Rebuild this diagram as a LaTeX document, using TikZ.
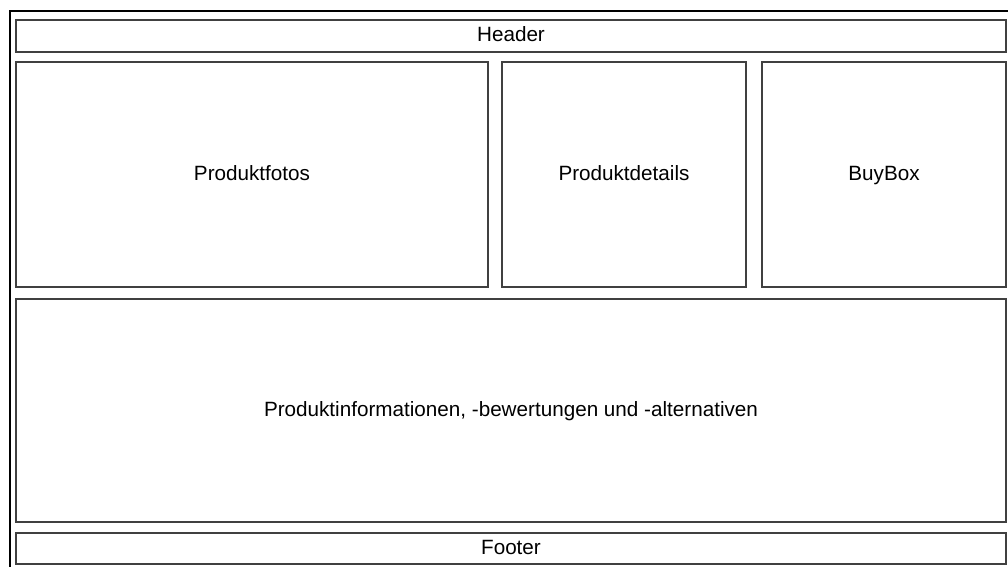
\documentclass[tikz,border=0pt]{standalone}
\usepackage{fontspec}
\setmainfont{Liberation Sans}
\usepackage{tikz}
\usetikzlibrary{positioning}
\tikzstyle{panel} = [rectangle, text centered, text height=0.9em, text depth=0pt, draw=black!75, line width=0.9pt, outer sep=0pt, font=\fontsize{15.5}{18}\selectfont]
\tikzstyle{bar} = [panel, minimum width=742.5pt, minimum height=24pt]
\tikzstyle{frame} = [draw=black, line width=2.2pt]

\begin{document}
\begin{tikzpicture}[x=0.75pt, y=-0.75pt]
    \useasboundingbox (0,0) rectangle (1008,567);
    \draw [frame] (10,580) |- (1020,11);

    \node (header) [bar, anchor=north west] at (16,20) {Header};
    \node (fotos) [panel, minimum width=354pt, minimum height=168.75pt, below right=7.5pt and 0pt of header.south west] {Produktfotos};
    \node (details) [panel, minimum width=183pt, minimum height=168.75pt, right=10.5pt of fotos] {Produktdetails};
    \node (buybox) [panel, minimum width=183pt, minimum height=168.75pt, right=12pt of details] {BuyBox};
    \node (infos) [panel, minimum width=742.5pt, minimum height=167.25pt, below right=9pt and 0pt of fotos.south west] {Produktinformationen, -bewertungen und -alternativen};
    \node (footer) [bar, minimum height=23.25pt, below right=8.25pt and 0pt of infos.south west] {Footer};
\end{tikzpicture}
\end{document}
